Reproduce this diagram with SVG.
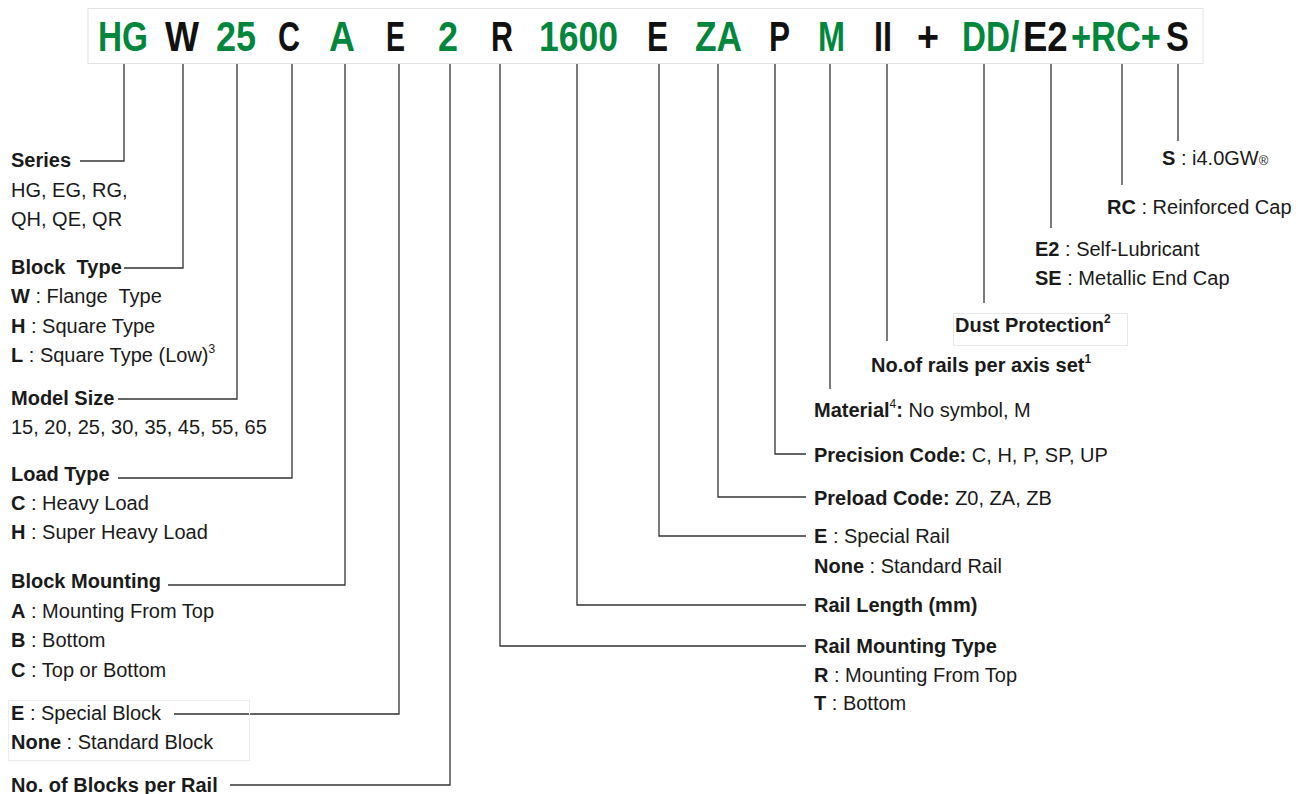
<svg xmlns="http://www.w3.org/2000/svg" width="1298" height="794" viewBox="0 0 1298 794">
<defs>
<style>
.code{font-family:"Liberation Sans",Arial,sans-serif;font-weight:bold;font-size:42px}
.g{fill:#00873c}
.k{fill:#111}
.t{font-family:"Liberation Sans",Arial,sans-serif;font-size:20px;fill:#1a1a1a}
.b{font-weight:bold}
.sup{font-size:12px}
.conn path{fill:none;stroke:#333;stroke-width:1.3}
.frame{fill:#fff;stroke:#e2e2e2;stroke-width:1}
</style>
</defs>
<rect width="1298" height="794" fill="#fff"/>
<rect class="frame" x="88" y="8.5" width="1115" height="55"/>
<g id="code">
<text class="code g" x="98" y="51" textLength="50" lengthAdjust="spacingAndGlyphs">HG</text>
<text class="code k" x="165" y="51" textLength="34" lengthAdjust="spacingAndGlyphs">W</text>
<text class="code g" x="216" y="51" textLength="40" lengthAdjust="spacingAndGlyphs">25</text>
<text class="code k" x="278" y="51" textLength="22" lengthAdjust="spacingAndGlyphs">C</text>
<text class="code g" x="329" y="51" textLength="26" lengthAdjust="spacingAndGlyphs">A</text>
<text class="code k" x="386" y="51" textLength="19" lengthAdjust="spacingAndGlyphs">E</text>
<text class="code g" x="438" y="51" textLength="20" lengthAdjust="spacingAndGlyphs">2</text>
<text class="code k" x="491" y="51" textLength="22" lengthAdjust="spacingAndGlyphs">R</text>
<text class="code g" x="539" y="51" textLength="79" lengthAdjust="spacingAndGlyphs">1600</text>
<text class="code k" x="647" y="51" textLength="21" lengthAdjust="spacingAndGlyphs">E</text>
<text class="code g" x="695" y="51" textLength="47" lengthAdjust="spacingAndGlyphs">ZA</text>
<text class="code k" x="769" y="51" textLength="21" lengthAdjust="spacingAndGlyphs">P</text>
<text class="code g" x="818" y="51" textLength="27" lengthAdjust="spacingAndGlyphs">M</text>
<text class="code k" x="874" y="51" textLength="18" lengthAdjust="spacingAndGlyphs">II</text>
<text class="code k" x="917" y="51" textLength="22" lengthAdjust="spacingAndGlyphs">+</text>
<text class="code g" transform="translate(962 51) scale(0.79 1)">DD/</text>
<text class="code k" transform="translate(1023 51) scale(0.87 1)">E2</text>
<text class="code g" transform="translate(1071 51) scale(0.82 1)">+RC+</text>
<text class="code k" transform="translate(1166 51) scale(0.82 1)">S</text>
</g>
<g class="conn" id="connectors">
<path d="M124 64V161H80"/>
<path d="M183 64V268H124"/>
<path d="M237 64V399H118"/>
<path d="M292 64V478H118"/>
<path d="M345 64V585H168"/>
<path d="M399 64V714H174"/>
<path d="M450 64V785H230"/>
<path d="M500 64V646H806"/>
<path d="M577 64V605H806"/>
<path d="M659 64V536H806"/>
<path d="M718 64V497H806"/>
<path d="M775 64V454H806"/>
<path d="M830 64V389"/>
<path d="M887 64V341"/>
<path d="M984 64V303"/>
<path d="M1051 64V228"/>
<path d="M1122 64V185"/>
<path d="M1178 64V141"/>
</g>
<g id="series">
<text class="t b" x="11" y="167">Series</text>
<text class="t" x="11" y="197">HG, EG, RG,</text>
<text class="t" x="11" y="226">QH, QE, QR</text>
</g>
<g id="block-type">
<text class="t b" x="11" y="274" xml:space="preserve">Block  Type</text>
<text class="t" x="11" y="303" xml:space="preserve"><tspan class="b">W</tspan> : Flange  Type</text>
<text class="t" x="11" y="333"><tspan class="b">H</tspan> : Square Type</text>
<text class="t" x="11" y="362"><tspan class="b">L</tspan> : Square Type (Low)<tspan class="sup" dy="-9">3</tspan></text>
</g>
<g id="model-size">
<text class="t b" x="11" y="405">Model Size</text>
<text class="t" x="11" y="434">15, 20, 25, 30, 35, 45, 55, 65</text>
</g>
<g id="load-type">
<text class="t b" x="11" y="481">Load Type</text>
<text class="t" x="11" y="510"><tspan class="b">C</tspan> : Heavy Load</text>
<text class="t" x="11" y="539"><tspan class="b">H</tspan> : Super Heavy Load</text>
</g>
<g id="block-mounting">
<text class="t b" x="11" y="588">Block Mounting</text>
<text class="t" x="11" y="618"><tspan class="b">A</tspan> : Mounting From Top</text>
<text class="t" x="11" y="647"><tspan class="b">B</tspan> : Bottom</text>
<text class="t" x="11" y="677"><tspan class="b">C</tspan> : Top or Bottom</text>
</g>
<g id="special-block">
<rect x="8.5" y="700.5" width="241" height="60" fill="none" stroke="#ececec"/>
<text class="t" x="11" y="720"><tspan class="b">E</tspan> : Special Block</text>
<text class="t" x="11" y="749"><tspan class="b">None</tspan> : Standard Block</text>
</g>
<g id="blocks-per-rail">
<text class="t b" x="11" y="792">No. of Blocks per Rail</text>
</g>
<g id="rail-mounting">
<text class="t b" x="814" y="653">Rail Mounting Type</text>
<text class="t" x="814" y="682"><tspan class="b">R</tspan> : Mounting From Top</text>
<text class="t" x="814" y="710"><tspan class="b">T</tspan> : Bottom</text>
</g>
<g id="rail-length">
<text class="t b" x="814" y="612">Rail Length (mm)</text>
</g>
<g id="special-rail">
<text class="t" x="814" y="543"><tspan class="b">E</tspan> : Special Rail</text>
<text class="t" x="814" y="573"><tspan class="b">None</tspan> : Standard Rail</text>
</g>
<g id="preload">
<text class="t" x="814" y="505"><tspan class="b">Preload Code:</tspan> Z0, ZA, ZB</text>
</g>
<g id="precision">
<text class="t" x="814" y="462"><tspan class="b">Precision Code:</tspan> C, H, P, SP, UP</text>
</g>
<g id="material">
<text class="t" x="814" y="417"><tspan class="b">Material</tspan><tspan class="sup" dy="-9">4</tspan><tspan class="b" dy="9">:</tspan> No symbol, M</text>
</g>
<g id="rails-per-axis">
<text class="t b" x="871" y="372">No.of rails per axis set<tspan class="sup" dy="-9">1</tspan></text>
</g>
<g id="dust-protection">
<rect x="953.5" y="313.5" width="174" height="32" fill="none" stroke="#e8e8e8"/>
<text class="t b" x="955" y="332">Dust Protection<tspan class="sup" dy="-9">2</tspan></text>
</g>
<g id="end-cap">
<text class="t" x="1035" y="256"><tspan class="b">E2</tspan> : Self-Lubricant</text>
<text class="t" x="1035" y="285"><tspan class="b">SE</tspan> : Metallic End Cap</text>
</g>
<g id="reinforced-cap">
<text class="t" x="1107" y="214"><tspan class="b">RC</tspan> : Reinforced Cap</text>
</g>
<g id="i40gw">
<text class="t" x="1162" y="165"><tspan class="b">S</tspan> : i4.0GW<tspan style="font-size:13px">®</tspan></text>
</g>
</svg>
